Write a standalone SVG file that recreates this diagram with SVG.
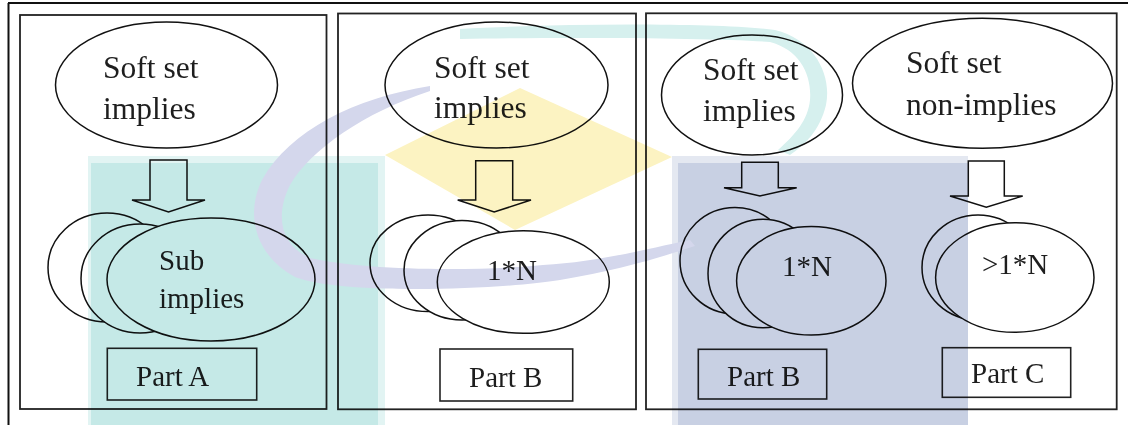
<svg xmlns="http://www.w3.org/2000/svg" width="1128" height="425" viewBox="0 0 1128 425">
  <style>
    .panel { fill: none; stroke: #222; stroke-width: 1.8; }
    .frame { fill: none; stroke: #111; stroke-width: 2; }
    .ell { fill: #fff; stroke: #111; stroke-width: 1.5; }
    .arrow { fill: #fff; stroke: #111; stroke-width: 1.5; stroke-linejoin: miter; }
    .box { fill: #fff; stroke: #222; stroke-width: 1.6; }
    .big { font-family: "Liberation Serif", "Times New Roman", serif; font-size: 31.5px; fill: #1e1e1e; }
    .txt { font-family: "Liberation Serif", "Times New Roman", serif; font-size: 29px; fill: #1e1e1e; }
    .wm { mix-blend-mode: multiply; }
  </style>

  <rect width="1128" height="425" fill="#fff"/>

  <!-- outer frame: top and left edges -->
  <g id="frame">
    <line class="frame" x1="8" y1="3" x2="1128" y2="3"/>
    <line class="frame" x1="8.5" y1="3" x2="8.5" y2="425"/>
  </g>

  <!-- panel outlines -->
  <g id="panels">
    <rect class="panel" x="20" y="15" width="306.5" height="394"/>
    <rect class="panel" x="338" y="13.5" width="298" height="395.8"/>
    <rect class="panel" x="646" y="13.3" width="470.7" height="396"/>
  </g>

  <!-- block arrows -->
  <g id="connectors">
    <polygon class="arrow" points="150,160 187,160 187,200 205,200 168.5,212 132,200 150,200"/>
    <polygon class="arrow" points="475.7,160.7 512.7,160.7 512.7,200 531,200 494.2,212 457.7,200 475.7,200"/>
    <polygon class="arrow" points="741.7,162.3 778.3,162.3 778.3,187.7 796.7,187.7 760,196 724,187.7 741.7,187.7"/>
    <polygon class="arrow" points="968.3,161 1004.3,161 1004.3,196 1022.7,196 986.3,207.3 950,196 968.3,196"/>
  </g>

  <!-- Panel A -->
  <g id="a-source">
    <ellipse class="ell" cx="166.5" cy="85" rx="111" ry="63"/>
    <text class="big" x="103" y="78">Soft set</text>
    <text class="big" x="103" y="119">implies</text>
  </g>
  <g id="a-sub">
    <ellipse class="ell" cx="107" cy="267.5" rx="59" ry="54.5"/>
    <ellipse class="ell" cx="140" cy="278.5" rx="59" ry="54.5"/>
    <ellipse class="ell" cx="211" cy="279.5" rx="104" ry="61.5"/>
    <text class="txt" x="159" y="270">Sub</text>
    <text class="txt" x="159" y="308">implies</text>
  </g>
  <g id="a-label">
    <rect class="box" x="107.3" y="348.3" width="149.4" height="51.7"/>
    <text class="txt" x="136" y="386">Part A</text>
  </g>

  <!-- Panel B -->
  <g id="b-source">
    <ellipse class="ell" cx="496.5" cy="85" rx="111.5" ry="63"/>
    <text class="big" x="434" y="78">Soft set</text>
    <text class="big" x="434" y="118">implies</text>
  </g>
  <g id="b-sets">
    <ellipse class="ell" cx="428" cy="263.3" rx="58" ry="48.3"/>
    <ellipse class="ell" cx="462" cy="270.3" rx="58" ry="49.7"/>
    <ellipse class="ell" cx="523.3" cy="282" rx="86" ry="51.3"/>
    <text class="txt" x="487" y="280">1*N</text>
  </g>
  <g id="b-label">
    <rect class="box" x="440" y="349" width="132.7" height="52"/>
    <text class="txt" x="469" y="387">Part B</text>
  </g>

  <!-- Panel C -->
  <g id="c-source-implies">
    <ellipse class="ell" cx="752" cy="95" rx="90.5" ry="60"/>
    <text class="big" x="703" y="80">Soft set</text>
    <text class="big" x="703" y="121">implies</text>
  </g>
  <g id="c-source-nonimplies">
    <ellipse class="ell" cx="982.5" cy="83.3" rx="130" ry="65"/>
    <text class="big" x="906" y="73">Soft set</text>
    <text class="big" x="906" y="115">non-implies</text>
  </g>
  <g id="c-sets-one">
    <ellipse class="ell" cx="735" cy="260.7" rx="55" ry="53.3"/>
    <ellipse class="ell" cx="763" cy="273.5" rx="55" ry="54.3"/>
    <ellipse class="ell" cx="811.3" cy="280.8" rx="74.7" ry="54.2"/>
    <text class="txt" x="782" y="276">1*N</text>
  </g>
  <g id="c-sets-many">
    <ellipse class="ell" cx="978" cy="267.5" rx="56" ry="52.5"/>
    <ellipse class="ell" cx="1014.8" cy="277.5" rx="79.2" ry="54.8"/>
    <text class="txt" x="982" y="274">&gt;1*N</text>
  </g>
  <g id="c-label-b">
    <rect class="box" x="698.3" y="349.3" width="128.4" height="49.7"/>
    <text class="txt" x="727" y="386">Part B</text>
  </g>
  <g id="c-label-c">
    <rect class="box" x="942.3" y="347.7" width="128.4" height="49.6"/>
    <text class="txt" x="971" y="383">Part C</text>
  </g>

  <!-- background emblem, tinted over the page -->
  <g id="emblem" class="wm">
    <rect x="88" y="156" width="297" height="269" fill="#e2f4f3"/>
    <rect x="91" y="163" width="287" height="262" fill="#c5e9e7"/>
    <rect x="672" y="156" width="296" height="269" fill="#e4e8f1"/>
    <rect x="678" y="163" width="290" height="262" fill="#c8d0e3"/>
    <polygon points="385,155 520,88 672,157 515,230" fill="#fcf3c2"/>
    <path d="M 430 86 C 355 98, 290 130, 262 180 C 245 215, 255 255, 295 277 C 340 295, 500 290, 560 280 C 620 270, 665 256, 695 246 L 690 240 C 655 247, 600 262, 543 265 C 470 272, 360 270, 310 258 C 280 245, 275 215, 290 185 C 310 150, 365 112, 430 91 Z" fill="#d4d7ec"/>
    <path d="M 460 29 C 570 23, 720 23, 775 30 C 815 40, 832 75, 826 105 C 820 130, 805 145, 790 155 L 778 150 C 795 135, 808 120, 810 100 C 812 75, 800 50, 770 42 C 720 38, 570 37, 460 39 Z" fill="#d6f0ee"/>
  </g>
</svg>
